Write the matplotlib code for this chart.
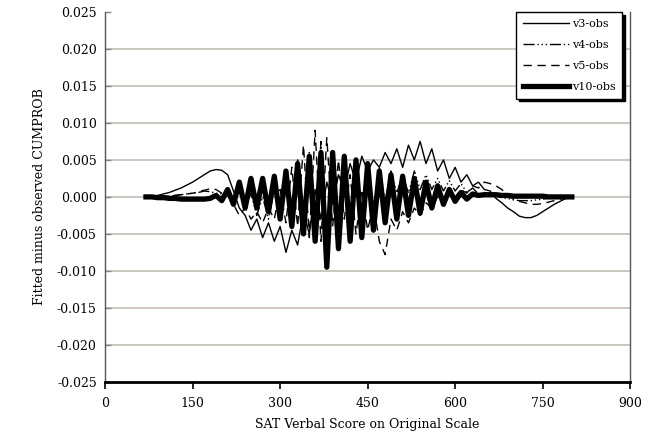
import matplotlib
matplotlib.use("Agg")
import matplotlib.pyplot as plt
import numpy as np

## data (values in units of 0.001)
scores = [70, 80, 90, 100, 110, 120, 130, 140, 150, 160, 170, 180, 190, 200,
          210, 220, 230, 240, 250, 260, 270, 280, 290, 300, 310, 320, 330, 340,
          350, 360, 370, 380, 390, 400, 410, 420, 430, 440, 450, 460, 470, 480,
          490, 500, 510, 520, 530, 540, 550, 560, 570, 580, 590, 600, 610, 620,
          630, 640, 650, 660, 670, 680, 690, 700, 710, 720, 730, 740, 750, 760,
          770, 780, 790, 800]

v3 = [0, 0.1, 0.2, 0.4, 0.6, 0.9, 1.2, 1.6, 2.0, 2.5, 3.0, 3.5, 3.7, 3.6,
      3.0, 0.8, -1.5, -2.5, -4.5, -3.0, -5.5, -3.5, -6.0, -4.0, -7.5, -4.5, -6.5, -2.0,
      -5.0, 1.0, -3.0, 2.0, -1.0, 3.0, 1.0, 4.5, 2.0, 5.5, 3.5, 5.0, 4.0, 6.0,
      4.5, 6.5, 4.0, 7.0, 5.0, 7.5, 4.5, 6.5, 3.5, 5.0, 2.5, 4.0, 2.0, 3.0,
      1.5, 2.0, 1.0, 0.8, -0.2, -0.8, -1.5, -2.0, -2.6, -2.8, -2.8, -2.5, -2.0, -1.5,
      -1.0, -0.6, -0.2, 0]

v4 = [0, 0, 0, 0.1, 0.1, 0.2, 0.3, 0.4, 0.5, 0.6, 0.8, 0.7, 0.5, 0.4,
      0.6, -0.5, 0.8, -1.5, 0.5, -2.5, 0.0, -3.0, 1.0, -2.0, 3.0, -3.5, 5.0, -4.0,
      6.0, -5.0, 7.5, -6.0, 6.0, -4.5, 5.0, -3.5, 4.0, -2.5, 4.5, -1.5, 4.0, -0.5,
      3.5, 0.5, 3.0, 0.5, 3.5, 1.0, 3.0, 1.0, 2.5, 0.8, 2.2, 0.8, 1.8, 0.6,
      1.2, 0.4, 0.6, 0.2, 0.1, -0.1, -0.2, -0.4, -0.5, -0.5, -0.5, -0.4, -0.3, -0.2,
      -0.1, -0.1, 0.0, 0]

v5 = [0, 0, 0, 0.1, 0.1, 0.2, 0.3, 0.4, 0.5, 0.7, 0.9, 1.1, 1.0, 0.5,
      0.2, -1.0, -2.5, -1.5, -3.0, -2.0, -3.5, -1.5, -3.0, 1.0, -3.5, 4.0, -4.0, 7.0,
      -5.5, 9.0, -6.0, 8.0, -4.0, 5.0, -3.0, 3.0, -5.0, 1.0, -4.5, -1.0, -6.0, -7.8,
      -3.0, -4.5, -2.0, -3.5, -1.5, -2.5, -0.8, -1.5, 0.0, -0.5, 0.5, 0.0, 1.0, 0.5,
      1.5, 1.2, 2.0, 1.8, 1.5, 1.0, 0.2, -0.3, -0.6, -0.8, -1.0, -1.0, -0.9, -0.7,
      -0.5, -0.3, -0.1, 0]

v10 = [0, 0, -0.1, -0.1, -0.2, -0.2, -0.3, -0.3, -0.3, -0.3, -0.3, -0.2, 0.2, -0.5,
       1.0, -1.0, 2.0, -1.5, 2.5, -1.5, 2.5, -2.0, 2.8, -3.0, 3.5, -4.0, 4.5, -5.0,
       5.5, -6.0, 6.0, -9.5, 6.0, -7.0, 5.5, -6.0, 5.0, -5.5, 4.5, -4.5, 3.5, -3.5,
       3.0, -3.0, 2.8, -2.5, 2.5, -2.2, 2.0, -1.5, 1.5, -1.0, 1.0, -0.6, 0.6, -0.3,
       0.4, 0.2, 0.3, 0.3, 0.3, 0.2, 0.2, 0.1, 0.1, 0.1, 0.1, 0.1, 0.1, 0.0,
       0.0, 0.0, 0.0, 0.0]

labels = ["v3-obs", "v4-obs", "v5-obs", "v10-obs"]

plt.rcParams['font.family'] = ['DejaVu Serif']

fig = plt.figure(figsize=(6.53, 4.42), dpi=100)
ax = fig.add_axes([0.161, 0.136, 0.804, 0.837])

x = np.array(scores)
ax.plot(x, np.array(v3) / 1000, color="black", lw=1.0, label=labels[0])
ax.plot(x, np.array(v4) / 1000, color="black", lw=1.0,
        linestyle=(0, (8, 2, 1, 2, 1, 2, 1, 2)), label=labels[1])
ax.plot(x, np.array(v5) / 1000, color="black", lw=1.0,
        linestyle=(0, (6, 4)), label=labels[2])
ax.plot(x, np.array(v10) / 1000, color="black", lw=3.8, label=labels[3])

ax.set_xlim(0, 900)
ax.set_ylim(-0.025, 0.025)
ax.set_xticks([0, 150, 300, 450, 600, 750, 900])
ax.set_yticks(np.arange(-0.025, 0.0251, 0.005))
ax.yaxis.set_major_formatter(matplotlib.ticker.FormatStrFormatter("%.3f"))

# gridlines
for yv in [-0.020, -0.015, -0.010, -0.005, 0.0, 0.005, 0.010, 0.015, 0.020]:
    ax.axhline(yv, color="#c4bdb6", lw=1.2, zorder=0)

ax.spines["top"].set_visible(False)
ax.spines["left"].set_color("#555555")
ax.spines["right"].set_color("#555555")
ax.spines["left"].set_linewidth(1.0)
ax.spines["right"].set_linewidth(1.0)
ax.spines["bottom"].set_linewidth(2.0)
ax.tick_params(axis="x", direction="out", length=5, width=1.2, labelsize=9, pad=6)
ax.tick_params(axis="y", direction="in", length=4, width=1, color="#888888",
               labelsize=9, pad=6)

ax.set_xlabel("SAT Verbal Score on Original Scale", fontsize=9, labelpad=6)
ax.set_ylabel("Fitted minus observed CUMPROB", fontsize=9, labelpad=8)

leg = ax.legend(loc="upper right", bbox_to_anchor=(0.995, 1.015), fontsize=8,
                frameon=True, fancybox=False, handlelength=4.2, handletextpad=0.2,
                labelspacing=1.0, borderpad=0.6,
                shadow={"color": "black", "alpha": 1.0, "ox": 2, "oy": -2})
leg.get_frame().set_edgecolor("black")
leg.get_frame().set_linewidth(1.0)

fig.savefig("out.png", dpi=100)
